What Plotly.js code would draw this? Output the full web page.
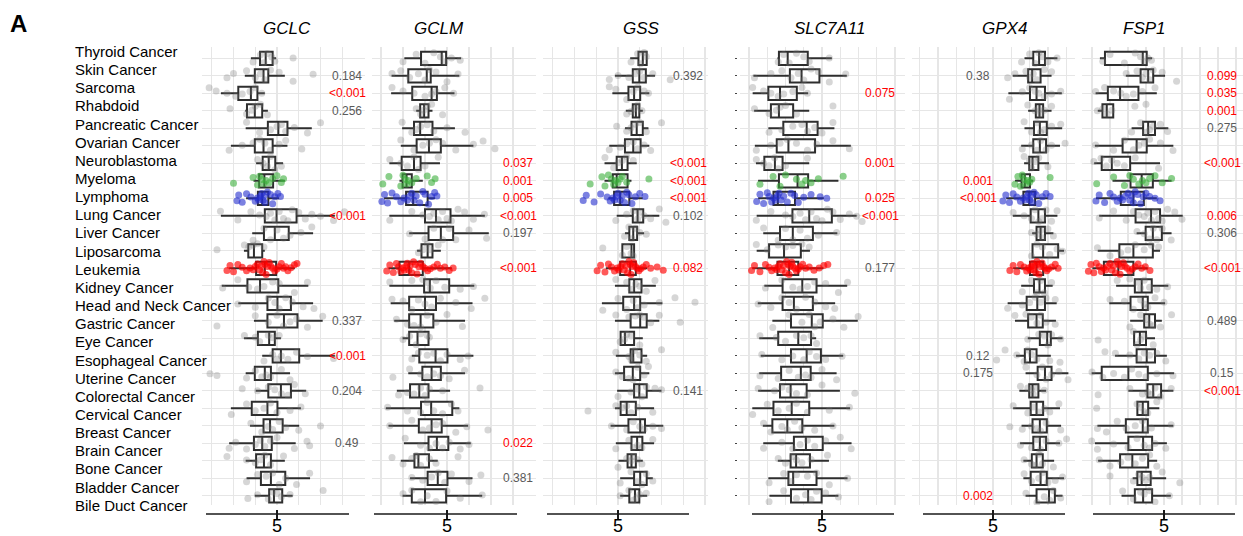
<!DOCTYPE html>
<html><head><meta charset="utf-8">
<script src="https://cdn.plot.ly/plotly-3.0.1.min.js"></script>
<style>html,body{margin:0;padding:0;background:#fff}</style>
</head><body>
<div id="chart" style="width:1243px;height:536px"></div>
<script>
// ---------------- DATA ----------------
const categories = ["Thyroid Cancer","Skin Cancer","Sarcoma","Rhabdoid","Pancreatic Cancer","Ovarian Cancer","Neuroblastoma","Myeloma","Lymphoma","Lung Cancer","Liver Cancer","Liposarcoma","Leukemia","Kidney Cancer","Head and Neck Cancer","Gastric Cancer","Eye Cancer","Esophageal Cancer","Uterine Cancer","Colorectal Cancer","Cervical Cancer","Breast Cancer","Brain Cancer","Bone Cancer","Bladder Cancer","Bile Duct Cancer"];
const genes = ["GCLC","GCLM","GSS","SLC7A11","GPX4","FSP1"];
const tickLabels = ["5"];

const gclc_lo  = [4.40,4.26,3.71,4.27,4.28,3.94,4.52,4.46,4.29,3.71,4.43,4.24,3.90,3.73,4.11,4.47,4.24,4.66,4.28,4.51,3.94,4.38,3.90,4.28,4.30,4.49];
const gclc_q1  = [4.61,4.49,4.11,4.31,4.79,4.49,4.67,4.59,4.56,4.72,4.70,4.34,4.52,4.32,4.78,4.78,4.56,4.90,4.49,4.80,4.42,4.69,4.47,4.52,4.63,4.82];
const gclc_med = [4.74,4.69,4.40,4.49,5.03,4.69,4.81,4.71,4.66,4.99,4.95,4.47,4.72,4.61,5.01,5.16,4.82,5.09,4.72,5.09,4.78,4.84,4.66,4.70,4.86,4.93];
const gclc_q3  = [4.90,4.80,4.55,4.66,5.24,4.90,4.96,4.91,4.80,5.45,5.27,4.66,4.98,5.03,5.32,5.47,4.95,5.51,4.86,5.32,5.01,5.13,4.88,4.86,5.19,5.12];
const gclc_hi  = [4.98,5.18,4.72,4.79,5.80,5.24,5.14,5.18,5.05,6.33,5.83,4.72,5.41,5.72,5.83,6.05,5.09,6.33,5.30,5.67,5.55,5.51,5.43,5.18,5.76,5.36];

const gclm_lo  = [4.03,3.74,3.73,4.30,3.98,3.95,3.69,3.92,3.57,3.69,4.14,4.32,3.67,3.69,3.72,3.80,3.99,4.20,4.12,3.86,3.61,3.67,4.02,3.95,4.16,3.99];
const gclm_q1  = [4.41,4.12,4.21,4.39,4.25,4.31,3.97,3.99,4.07,4.50,4.58,4.42,3.92,4.48,4.14,4.14,4.14,4.37,4.44,4.16,4.41,4.36,4.58,4.26,4.56,4.20];
const gclm_med = [4.88,4.54,4.65,4.48,4.39,4.59,4.25,4.08,4.23,4.75,4.86,4.56,4.14,4.61,4.50,4.40,4.33,4.74,4.65,4.37,4.64,4.65,4.77,4.35,4.79,4.50];
const gclm_q3  = [4.98,4.63,4.77,4.58,4.67,4.86,4.40,4.20,4.56,5.08,5.14,4.67,4.45,5.05,4.75,4.69,4.58,5.01,4.86,4.58,5.12,4.88,5.03,4.59,5.01,4.98];
const gclm_hi  = [5.32,5.28,5.17,4.67,5.18,5.60,4.84,4.45,4.73,5.86,5.95,4.86,5.11,5.62,5.58,5.41,4.61,5.60,5.41,5.07,5.28,5.48,5.54,4.79,5.58,5.80];

const gss_lo  = [5.28,4.93,4.87,5.18,5.16,4.80,4.69,4.69,4.78,4.97,5.16,5.08,4.72,4.93,4.63,4.93,5.05,4.95,4.93,4.98,4.93,4.83,4.95,5.01,5.05,5.05];
const gss_q1  = [5.47,5.34,5.24,5.34,5.31,5.16,4.97,4.88,4.91,5.34,5.26,5.10,5.05,5.26,5.12,5.29,5.06,5.29,5.14,5.37,5.06,5.24,5.31,5.22,5.37,5.26];
const gss_med = [5.57,5.49,5.37,5.41,5.43,5.35,5.09,4.97,5.05,5.45,5.35,5.31,5.28,5.37,5.37,5.51,5.16,5.35,5.34,5.49,5.20,5.51,5.44,5.31,5.51,5.39];
const gss_q3  = [5.66,5.64,5.51,5.49,5.57,5.52,5.22,5.22,5.26,5.58,5.44,5.37,5.41,5.54,5.51,5.66,5.37,5.54,5.51,5.66,5.41,5.62,5.56,5.41,5.66,5.49];
const gss_hi  = [5.67,5.85,5.72,5.57,5.70,5.72,5.43,5.31,5.57,5.95,5.60,5.39,5.67,5.87,6.02,5.95,5.57,5.67,5.72,6.00,5.83,6.04,5.83,5.57,5.80,5.67];

const slc_lo  = [3.78,3.12,3.10,3.14,3.53,3.16,3.19,3.25,3.25,3.21,3.39,3.21,3.09,3.42,3.24,3.64,3.28,3.32,3.28,3.25,3.09,3.38,3.39,3.79,3.53,3.56];
const slc_q1  = [3.82,4.12,3.53,3.60,3.94,3.76,3.42,3.82,3.67,4.19,3.85,3.55,3.78,3.92,3.92,4.15,3.80,4.15,3.88,3.85,3.67,3.64,4.23,4.14,4.08,4.15];
const slc_med = [4.06,4.44,3.85,3.82,4.58,4.08,3.71,4.33,3.79,4.65,4.20,3.96,4.10,4.46,4.23,4.72,4.35,4.58,4.42,4.14,4.17,4.05,4.56,4.29,4.21,4.62];
const slc_q3  = [4.61,4.93,4.31,4.21,4.88,4.81,3.92,4.62,4.26,5.27,4.75,4.42,4.35,4.85,4.75,5.02,4.70,4.97,4.69,4.58,4.65,4.46,5.02,4.67,4.85,4.99];
const slc_hi  = [5.27,5.68,4.62,4.65,5.34,5.79,4.65,5.45,5.05,5.95,5.42,4.67,5.04,5.69,5.36,5.98,4.84,5.58,5.40,5.49,5.77,5.34,5.81,5.19,5.70,5.45];

const gpx4_lo  = [5.86,5.54,5.42,5.96,5.86,5.77,5.85,5.60,5.36,5.54,6.07,6.07,5.55,5.77,5.40,5.60,5.95,5.63,5.89,5.72,5.55,5.78,5.74,5.83,5.83,5.89];
const gpx4_q1  = [6.10,5.96,6.01,6.17,6.12,6.10,5.99,5.78,5.83,6.03,6.19,6.08,6.01,6.12,5.92,5.96,6.28,5.87,6.22,5.99,6.03,6.08,6.10,6.06,6.03,6.19];
const gpx4_med = [6.26,6.07,6.19,6.27,6.28,6.28,6.08,5.87,5.99,6.24,6.30,6.37,6.19,6.27,6.21,6.19,6.48,6.01,6.42,6.08,6.19,6.28,6.28,6.19,6.30,6.53];
const gpx4_q3  = [6.42,6.30,6.42,6.37,6.47,6.45,6.24,6.01,6.15,6.42,6.42,6.78,6.37,6.42,6.42,6.36,6.58,6.19,6.60,6.24,6.37,6.47,6.45,6.36,6.47,6.69];
const gpx4_hi  = [6.76,6.60,6.88,6.60,6.89,6.83,6.53,6.10,6.51,6.76,6.65,6.94,6.74,6.63,6.74,6.72,6.90,6.58,7.06,6.45,6.83,6.86,6.83,6.67,6.94,6.90];

const fsp1_lo  = [3.22,3.94,3.10,3.16,4.10,3.08,3.06,3.57,3.11,3.20,4.24,3.16,3.01,3.67,3.48,4.06,4.15,3.64,2.99,4.01,4.24,3.15,3.08,3.17,4.13,3.82];
const fsp1_q1  = [3.36,4.35,3.44,3.29,4.42,3.85,3.27,4.07,3.80,4.21,4.49,3.76,3.33,4.19,4.07,4.45,4.17,4.24,3.27,4.54,4.26,3.94,4.01,3.78,4.26,4.19];
const fsp1_med = [4.41,4.56,3.78,3.41,4.56,4.24,3.55,4.38,4.15,4.64,4.69,4.15,3.73,4.38,4.41,4.59,4.33,4.52,4.01,4.70,4.41,4.41,4.42,4.12,4.38,4.42];
const fsp1_q3  = [4.52,4.70,4.29,3.59,4.75,4.52,4.06,4.69,4.44,4.89,4.94,4.69,4.15,4.66,4.55,4.75,4.50,4.75,4.55,4.92,4.56,4.55,4.67,4.56,4.63,4.67];
const fsp1_hi  = [4.67,5.03,4.80,3.61,5.12,5.26,4.89,5.21,4.80,5.52,5.21,4.89,4.55,5.12,5.03,4.94,4.75,5.08,5.28,5.26,4.87,5.26,5.08,4.81,5.06,5.19];

// individual cell-line values per cancer type (same order as categories)
const gclc_pts = [
 [4.45,4.62,4.7,4.78,4.88,4.95,5.37],
 [3.85,4.0,4.3,4.5,4.62,4.72,4.85,5.05,5.37,5.83],
 [3.44,3.6,3.85,4.05,4.2,4.38,4.5,4.65],
 [3.92,4.3,4.42,4.5,4.62,4.78],
 [4.3,4.6,4.85,5.0,5.1,5.2,5.4,5.7,6.0],
 [3.9,4.2,4.45,4.6,4.72,4.85,5.05,5.2,5.57],
 [4.55,4.68,4.78,4.85,4.95,5.1],
 [4.0,4.45,4.55,4.6,4.65,4.7,4.75,4.82,4.9,5.0,5.1,5.15],
 [4.08,4.12,4.2,4.3,4.4,4.5,4.55,4.58,4.62,4.65,4.68,4.7,4.72,4.78,4.85,4.9,4.95,5.02,5.08],
 [3.7,4.1,4.4,4.6,4.75,4.85,4.95,5.05,5.15,5.25,5.35,5.5,5.65,5.8,6.0,6.3,6.55],
 [4.45,4.7,4.85,5.0,5.15,5.3,5.55,5.8],
 [3.62,4.25,4.35,4.45,4.55,4.7],
 [3.85,3.92,4.0,4.1,4.2,4.3,4.38,4.45,4.5,4.55,4.6,4.63,4.67,4.7,4.72,4.75,4.78,4.82,4.86,4.9,4.95,5.0,5.05,5.1,5.15,5.2,5.25,5.32,5.4,5.46],
 [3.75,4.1,4.35,4.55,4.7,4.9,5.05,5.4,5.7],
 [4.1,4.5,4.8,4.95,5.05,5.2,5.35,5.6,5.85],
 [3.62,4.5,4.8,5.0,5.15,5.3,5.45,5.7,6.05],
 [4.25,4.5,4.6,4.8,4.9,5.05],
 [4.7,4.9,5.0,5.1,5.25,5.45,5.7,6.3],
 [3.46,3.62,4.3,4.5,4.65,4.75,4.85,5.1,5.3],
 [4.2,4.55,4.8,4.95,5.1,5.25,5.4,5.65],
 [3.95,4.3,4.5,4.7,4.85,5.0,5.3,5.55],
 [4.4,4.65,4.8,4.9,5.05,5.2,5.5,6.0],
 [3.9,4.05,4.3,4.5,4.62,4.72,4.85,5.0,5.4,5.69,5.75],
 [3.85,4.3,4.5,4.62,4.72,4.85,5.15],
 [4.3,4.55,4.75,4.9,5.05,5.2,5.45,5.75],
 [4.33,4.55,4.8,4.9,5.0,5.1,5.3,6.06]
];
const gclm_pts = [
 [4.0,4.3,4.5,4.7,4.85,4.95,5.1,5.3],
 [3.75,3.95,4.15,4.35,4.5,4.6,4.75,5.0,5.25],
 [3.75,4.0,4.25,4.5,4.65,4.75,4.95,5.15],
 [4.3,4.4,4.47,4.55,4.65,4.9],
 [3.98,4.2,4.3,4.4,4.55,4.7,5.0,5.41],
 [3.95,4.25,4.45,4.6,4.75,4.9,5.2,5.6,5.82,6.09],
 [3.7,3.95,4.1,4.25,4.35,4.5,4.8],
 [3.54,3.68,3.95,4.0,4.05,4.08,4.12,4.2,4.3,4.55,4.65,4.73],
 [3.52,3.58,3.65,3.75,3.85,3.95,4.02,4.1,4.15,4.2,4.25,4.3,4.38,4.45,4.5,4.58,4.65,4.72,4.77],
 [3.7,4.2,4.45,4.6,4.7,4.8,4.9,5.0,5.1,5.25,5.4,5.6,5.85],
 [4.15,4.5,4.7,4.9,5.05,5.2,5.5,5.9],
 [4.35,4.45,4.55,4.62,4.8],
 [3.63,3.7,3.78,3.85,3.9,3.95,4.0,4.03,4.06,4.1,4.13,4.16,4.2,4.24,4.28,4.32,4.36,4.4,4.45,4.5,4.56,4.62,4.7,4.78,4.85,4.95,5.05,5.14],
 [3.7,4.2,4.45,4.55,4.62,4.75,4.95,5.3,5.6],
 [3.75,4.0,4.2,4.35,4.5,4.65,4.85,5.2,5.55,5.86],
 [3.85,4.1,4.25,4.4,4.55,4.75,5.0,5.35],
 [4.0,4.15,4.3,4.4,4.55,4.6],
 [4.2,4.35,4.55,4.7,4.85,5.0,5.3,5.48],
 [3.77,4.15,4.4,4.55,4.7,4.85,5.05,5.4],
 [3.9,4.1,4.25,4.4,4.5,4.6,4.9,5.75],
 [3.65,4.1,4.4,4.55,4.7,4.9,5.1,5.25],
 [3.7,4.2,4.45,4.6,4.75,4.9,5.2,5.45,5.93],
 [4.05,4.4,4.6,4.75,4.9,5.05,5.3,5.5],
 [3.75,4.0,4.2,4.3,4.4,4.6,4.75,5.25],
 [4.2,4.45,4.65,4.8,4.95,5.1,5.5,5.77],
 [4.0,4.2,4.4,4.55,4.75,5.0,5.3,5.8]
];
const gss_pts = [
 [5.3,5.45,5.52,5.6,5.65],
 [4.8,5.0,5.25,5.4,5.5,5.6,5.8,6.2],
 [4.8,4.95,5.2,5.35,5.45,5.6,5.7],
 [5.2,5.3,5.38,5.45,5.55],
 [4.97,5.2,5.3,5.4,5.5,5.65,6.0],
 [4.8,5.05,5.2,5.35,5.45,5.6,5.75],
 [4.7,4.9,5.0,5.1,5.2,5.35],
 [4.36,4.63,4.7,4.78,4.85,4.9,4.95,5.0,5.05,5.1,5.2,5.71],
 [4.2,4.27,4.45,4.6,4.75,4.82,4.88,4.92,4.97,5.0,5.05,5.1,5.15,5.2,5.25,5.32,5.4,5.5,5.62],
 [4.95,5.2,5.35,5.45,5.5,5.6,5.75,5.95,6.1],
 [5.15,5.25,5.32,5.4,5.5,5.65],
 [4.65,5.1,5.2,5.3,5.35],
 [4.52,4.6,4.7,4.78,4.85,4.92,4.98,5.02,5.06,5.1,5.14,5.18,5.22,5.25,5.28,5.3,5.33,5.36,5.4,5.44,5.48,5.52,5.58,5.65,5.75,5.9,6.04],
 [4.95,5.2,5.3,5.4,5.5,5.65,5.85],
 [4.65,5.0,5.2,5.35,5.45,5.6,5.95,6.31,6.77],
 [4.95,5.25,5.4,5.5,5.6,5.75,5.95,6.43],
 [5.05,5.15,5.2,5.3,5.5],
 [4.95,5.25,5.3,5.38,5.5,5.65,6.0],
 [4.95,5.1,5.25,5.35,5.45,5.6,5.7],
 [5.0,5.3,5.45,5.55,5.65,5.85,6.0],
 [4.31,4.95,5.1,5.2,5.3,5.45,5.8],
 [4.85,5.2,5.35,5.5,5.6,5.8,6.0],
 [4.95,5.25,5.35,5.45,5.55,5.8],
 [5.0,5.2,5.3,5.35,5.45,5.55],
 [5.05,5.3,5.45,5.55,5.65,5.8],
 [5.05,5.25,5.35,5.42,5.5,5.65]
];
const slc_pts = [
 [3.8,3.95,4.1,4.3,4.5,4.65,5.2],
 [3.15,3.6,3.9,4.15,4.35,4.5,4.7,4.9,5.2,5.65],
 [3.1,3.4,3.6,3.8,3.95,4.2,4.45,4.6],
 [3.15,3.55,3.75,3.85,4.0,4.3,5.3],
 [3.55,3.9,4.2,4.45,4.6,4.8,5.0,5.3],
 [3.2,3.6,3.85,4.05,4.3,4.6,4.85,5.3,5.75],
 [3.2,3.4,3.55,3.7,3.8,4.0,4.6],
 [3.3,3.66,3.85,4.0,4.3,4.45,4.55,4.7,4.9,5.58],
 [3.21,3.3,3.4,3.5,3.55,3.62,3.68,3.72,3.78,3.82,3.88,3.95,4.05,4.15,4.25,4.35,4.5,4.7,4.95,5.13],
 [3.2,3.6,4.0,4.2,4.4,4.55,4.7,4.85,5.0,5.15,5.3,5.5,5.75,5.95,6.1],
 [3.4,3.8,4.0,4.2,4.4,4.6,4.9,5.4],
 [3.2,3.5,3.8,4.0,4.2,4.45,4.65],
 [3.07,3.15,3.3,3.45,3.55,3.62,3.7,3.76,3.8,3.85,3.9,3.95,4.0,4.03,4.07,4.1,4.13,4.17,4.2,4.25,4.3,4.35,4.4,4.47,4.55,4.65,4.78,4.92,5.05,5.16],
 [3.45,3.9,4.2,4.4,4.6,4.8,5.1,5.45,5.7],
 [3.25,3.6,3.9,4.1,4.3,4.55,4.8,5.1,5.35],
 [3.65,4.1,4.45,4.65,4.8,4.95,5.3,5.6,5.99],
 [3.3,3.75,4.0,4.3,4.5,4.7,4.85],
 [3.35,3.9,4.2,4.5,4.65,4.85,5.1,5.55],
 [3.3,3.8,4.1,4.35,4.55,4.7,5.0,5.4],
 [3.25,3.7,3.9,4.1,4.3,4.6,5.0,5.9],
 [3.1,3.5,3.8,4.1,4.3,4.6,5.2,5.75],
 [3.4,3.6,3.9,4.05,4.25,4.45,4.8,5.3],
 [3.4,3.9,4.2,4.4,4.6,4.8,5.1,5.5,5.8],
 [3.8,4.0,4.2,4.3,4.45,4.7,5.15],
 [3.55,3.95,4.15,4.3,4.6,4.85,5.2,5.7],
 [3.55,3.95,4.3,4.55,4.7,4.85,5.1,5.45]
];
const gpx4_pts = [
 [5.78,6.0,6.15,6.25,6.35,6.5,6.75],
 [5.4,5.6,5.9,6.0,6.1,6.2,6.4,6.6],
 [5.45,5.8,6.0,6.15,6.25,6.4,6.6,6.85],
 [5.95,6.15,6.25,6.3,6.4,6.6],
 [5.85,6.05,6.2,6.3,6.4,6.6,6.85],
 [5.8,6.05,6.2,6.3,6.45,6.6,6.97],
 [5.85,6.0,6.05,6.15,6.25,6.5],
 [5.6,5.68,5.75,5.8,5.85,5.9,5.95,6.0,6.06,6.56],
 [5.27,5.35,5.45,5.55,5.65,5.75,5.82,5.88,5.93,5.97,6.0,6.03,6.07,6.12,6.18,6.25,6.35,6.45,6.56],
 [5.55,5.85,6.05,6.15,6.25,6.35,6.45,6.6,6.75],
 [6.05,6.2,6.3,6.35,6.5,6.65],
 [6.05,6.2,6.35,6.55,6.75,6.9],
 [5.46,5.55,5.65,5.75,5.85,5.92,5.97,6.02,6.05,6.08,6.11,6.14,6.17,6.2,6.23,6.26,6.3,6.34,6.38,6.42,6.47,6.52,6.6,6.7,6.78],
 [5.8,6.05,6.2,6.3,6.4,6.6],
 [5.4,5.8,6.0,6.15,6.3,6.45,6.7],
 [5.6,5.9,6.05,6.2,6.3,6.45,6.7],
 [5.95,6.25,6.4,6.5,6.6,6.85],
 [5.1,5.33,5.65,5.85,5.95,6.05,6.2,6.55,6.83],
 [5.9,6.2,6.35,6.45,6.6,6.8,7.05],
 [5.75,5.95,6.05,6.1,6.2,6.4],
 [5.55,5.95,6.1,6.25,6.4,6.55,6.8],
 [5.46,5.8,6.05,6.2,6.3,6.45,6.85],
 [5.75,6.05,6.2,6.3,6.45,6.8,7.01],
 [5.85,6.05,6.15,6.25,6.35,6.65],
 [5.85,6.05,6.25,6.35,6.5,6.7,6.9],
 [5.9,6.2,6.4,6.55,6.65,6.85]
];
const fsp1_pts = [
 [3.3,3.5,3.9,4.2,4.35,4.45,4.55,4.65],
 [3.95,4.25,4.4,4.5,4.6,4.7,4.95,5.35],
 [3.1,3.35,3.6,3.8,3.95,4.15,4.4,4.75],
 [3.15,3.3,3.42,3.55,4.19,4.5],
 [4.1,4.35,4.5,4.6,4.7,4.9,5.1],
 [3.1,3.6,3.9,4.15,4.3,4.45,4.6,4.9,5.25],
 [3.05,3.25,3.4,3.55,3.7,3.9,4.2,4.85],
 [3.13,3.6,3.9,4.05,4.15,4.3,4.4,4.5,4.6,4.75,4.95,5.21],
 [3.11,3.2,3.35,3.5,3.6,3.7,3.78,3.85,3.92,4.0,4.05,4.1,4.15,4.2,4.27,4.35,4.42,4.5,4.6,4.75,4.89],
 [3.2,3.6,3.95,4.15,4.3,4.45,4.55,4.65,4.75,4.85,4.95,5.1,5.3,5.5],
 [4.25,4.45,4.6,4.7,4.8,4.95,5.2],
 [3.15,3.5,3.8,4.0,4.2,4.45,4.65,4.85],
 [2.9,2.97,3.05,3.12,3.2,3.26,3.32,3.38,3.44,3.5,3.55,3.6,3.65,3.7,3.74,3.78,3.82,3.87,3.92,3.98,4.05,4.12,4.2,4.28,4.38,4.48,4.61],
 [3.7,4.05,4.25,4.35,4.45,4.6,4.8,5.1],
 [3.5,3.9,4.15,4.35,4.45,4.55,4.75,5.0],
 [4.05,4.35,4.5,4.6,4.7,4.9,5.21],
 [3.17,4.15,4.25,4.35,4.45,4.7],
 [3.36,3.65,4.05,4.3,4.45,4.6,4.8,5.05],
 [3.0,3.3,3.6,3.9,4.1,4.3,4.5,4.8,5.25],
 [3.17,4.05,4.4,4.55,4.65,4.75,4.9,5.2],
 [3.13,4.25,4.35,4.45,4.55,4.8],
 [3.15,3.4,3.7,3.95,4.2,4.4,4.5,4.65,5.2],
 [2.99,3.15,3.6,4.0,4.25,4.45,4.6,4.75,5.05],
 [3.2,3.5,3.8,4.0,4.2,4.4,4.6,4.8],
 [3.5,4.15,4.3,4.4,4.5,4.6,4.95,5.44],
 [3.85,4.15,4.35,4.45,4.6,4.75,5.15]
];

// p-values (text shown beside each row; '' = none)
const gclc_p = ["","0.184","<0.001","0.256","","","","","","<0.001","","","","","","0.337","","<0.001","","0.204","","","0.49","","",""];
const gclm_p = ["","","","","","","0.037","0.001","0.005","<0.001","0.197","","<0.001","","","","","","","","","","0.022","","0.381",""];
const gss_p  = ["","0.392","","","","","<0.001","<0.001","<0.001","0.102","","","0.082","","","","","","","0.141","","","","","",""];
const slc_p  = ["","","0.075","","","","0.001","","0.025","<0.001","","","0.177","","","","","","","","","","","","",""];
const gpx4_p = ["","0.38","","","","","","0.001","<0.001","","","","","","","","","0.12","0.175","","","","","","","0.002"];
const fsp1_p = ["","0.099","0.035","0.001","0.275","","<0.001","","","0.006","0.306","","<0.001","","","0.489","","","0.15","<0.001","","","","","",""];

// ---------------- STYLE / LAYOUT CONFIG ----------------
const W = 1243, H = 536;
const FONT = "Liberation Sans, Arial, Helvetica, sans-serif";
const GRID = "#e6e6e6";
const highlightColors = {"Myeloma":"rgba(60,175,60,0.6)","Lymphoma":"rgba(35,45,205,0.6)","Leukemia":"rgba(255,0,0,0.65)"};
const grayPoint = "rgba(120,120,120,0.3)";
// pixel geometry of each panel
const panels = [
 {dom:[202,365], p5:277,  unit:43.5, axis:[206,349],  pcx:347,  tx:286.5},
 {dom:[372,536], p5:447,  unit:44.0, axis:[374,517],  pcx:518,  tx:439},
 {dom:[543,708], p5:618,  unit:43.5, axis:[547,689],  pcx:688,  tx:641.5},
 {dom:[740,905], p5:822,  unit:36.5, axis:[752,894],  pcx:880,  tx:830},
 {dom:[912,1075],p5:993,  unit:36.6, axis:[923,1065], pcx:978,  tx:1004.5},
 {dom:[1082,1243],p5:1164,unit:36.0, axis:[1093,1235],pcx:1222, tx:1144.5}
];
const rowTop = 58.3, rowStep = 17.5, gridTop = 47, gridBottom = 505;

const stats = [
 [gclc_lo,gclc_q1,gclc_med,gclc_q3,gclc_hi],
 [gclm_lo,gclm_q1,gclm_med,gclm_q3,gclm_hi],
 [gss_lo,gss_q1,gss_med,gss_q3,gss_hi],
 [slc_lo,slc_q1,slc_med,slc_q3,slc_hi],
 [gpx4_lo,gpx4_q1,gpx4_med,gpx4_q3,gpx4_hi],
 [fsp1_lo,fsp1_q1,fsp1_med,fsp1_q3,fsp1_hi]
];
const points = [gclc_pts,gclm_pts,gss_pts,slc_pts,gpx4_pts,fsp1_pts];
const pvals = [gclc_p,gclm_p,gss_p,slc_p,gpx4_p,fsp1_p];

// ---------------- BUILD ----------------
const traces = [], annotations = [], shapes = [];
const layout = {
  width: W, height: H, margin:{l:0,r:0,t:0,b:0},
  paper_bgcolor:"#fff", plot_bgcolor:"rgba(0,0,0,0)",
  showlegend:false, boxmode:"overlay",
  font:{family:FONT, color:"#000"},
  hovermode:false
};
const yRange = [ (gridBottom-rowTop)/rowStep, -(rowTop-gridTop)/rowStep ];
const yCommon = {
  domain:[1-gridBottom/H, 1-gridTop/H], type:"category", categoryorder:"array",
  categoryarray:categories, range:yRange, showticklabels:false,
  showgrid:true, gridcolor:GRID, gridwidth:1.3, zeroline:false, showline:false, fixedrange:true
};
layout.yaxis = Object.assign({}, yCommon, {anchor:"x", ticks:""});
layout.yaxis2 = Object.assign({}, yCommon, {anchor:"free", position:737/W, ticks:"outside", ticklen:2, tickwidth:1, tickcolor:"#444"});

genes.forEach((g, i) => {
  const P = panels[i];
  const sx = i === 0 ? "" : String(i+1);
  const xa = "x" + sx;
  const ya = i === 3 ? "y2" : "y";
  layout["xaxis" + sx] = {
    domain:[P.dom[0]/W, P.dom[1]/W],
    range:[5 + (P.dom[0]-P.p5)/P.unit, 5 + (P.dom[1]-P.p5)/P.unit],
    anchor:"free", position:1-509/H,
    tickmode:"array", tickvals:[5], ticktext:tickLabels,
    ticks:"outside", ticklen:10, tickwidth:1.5, tickcolor:"#1a1a1a",
    ticklabelstandoff:-10,
    tickfont:{size:18, color:"#000", family:FONT},
    showgrid:true, gridcolor:GRID, gridwidth:1.3,
    minor:{tickmode:"linear", tick0:0, dtick:0.5, showgrid:true, gridcolor:GRID, gridwidth:1.3, ticks:""},
    zeroline:false, showline:false, fixedrange:true
  };
  const S = stats[i];
  traces.push({
    type:"box", orientation:"h", xaxis:xa, yaxis:ya, y:categories,
    lowerfence:S[0], q1:S[1], median:S[2], q3:S[3], upperfence:S[4],
    width:0.76, whiskerwidth:0, boxpoints:false,
    fillcolor:"#ffffff", line:{color:"#2e2e2e", width:2}, hoverinfo:"skip"
  });
  // points: gray for ordinary types, coloured for haematological ones
  const groups = {gray:{x:[],y:[],c:grayPoint}};
  Object.keys(highlightColors).forEach(k => groups[k] = {x:[],y:[],c:highlightColors[k]});
  categories.forEach((c, k) => {
    const grp = highlightColors[c] ? groups[c] : groups.gray;
    points[i][k].forEach(v => { grp.x.push(v); grp.y.push(c); });
  });
  Object.values(groups).forEach(grp => {
    traces.push({
      type:"box", orientation:"h", xaxis:xa, yaxis:ya, x:grp.x, y:grp.y,
      boxpoints:"all", jitter:1, pointpos:0, width:0.8, whiskerwidth:0,
      fillcolor:"rgba(0,0,0,0)", line:{width:0, color:"rgba(0,0,0,0)"},
      marker:{color:grp.c, size:7, line:{width:0}}, hoverinfo:"skip"
    });
  });
  // p-values
  pvals[i].forEach((t, k) => {
    if (!t) return;
    const val = t.startsWith("<") ? 0 : parseFloat(t);
    annotations.push({
      xref:"paper", x:P.pcx/W, yref:ya, y:categories[k], text:t, showarrow:false,
      xanchor:"center", yanchor:"middle",
      font:{size:12, family:FONT, color: val < 0.1 ? "#ff0000" : "#5a5a5a"}
    });
  });
  // gene title
  annotations.push({xref:"paper", yref:"paper", x:P.tx/W, y:1-29/H, text:"<i>"+g+"</i>",
    showarrow:false, xanchor:"center", yanchor:"middle", font:{size:17, family:FONT, color:"#000"}});
  // bottom axis line
  shapes.push({type:"line", xref:"paper", yref:"paper", x0:P.axis[0]/W, x1:P.axis[1]/W,
    y0:1-514/H, y1:1-514/H, line:{color:"#1a1a1a", width:1.5}});
});

// label axis (left-aligned cancer-type names)
layout.xaxis7 = {domain:[0,0.01], visible:false, anchor:"y3", fixedrange:true};
layout.yaxis3 = {
  domain:[1-514.6/H, 1-42.6/H], type:"category", categoryorder:"array", categoryarray:categories,
  range:[25.5,-0.5], anchor:"free", position:74/W, side:"right",
  showgrid:false, zeroline:false, showline:false, ticks:"",
  tickfont:{size:15, color:"#000", family:FONT}, fixedrange:true
};
traces.push({type:"scatter", mode:"markers", xaxis:"x7", yaxis:"y3", x:categories.map(()=>0), y:categories,
  marker:{opacity:0}, hoverinfo:"skip"});

annotations.push({xref:"paper", yref:"paper", x:8/W, y:1-23.5/H, text:"<b>A</b>", showarrow:false,
  xanchor:"left", yanchor:"middle", font:{size:24, family:FONT, color:"#000"}});

layout.annotations = annotations;
layout.shapes = shapes;
Plotly.newPlot("chart", traces, layout, {displayModeBar:false, staticPlot:true});
</script>
</body></html>
